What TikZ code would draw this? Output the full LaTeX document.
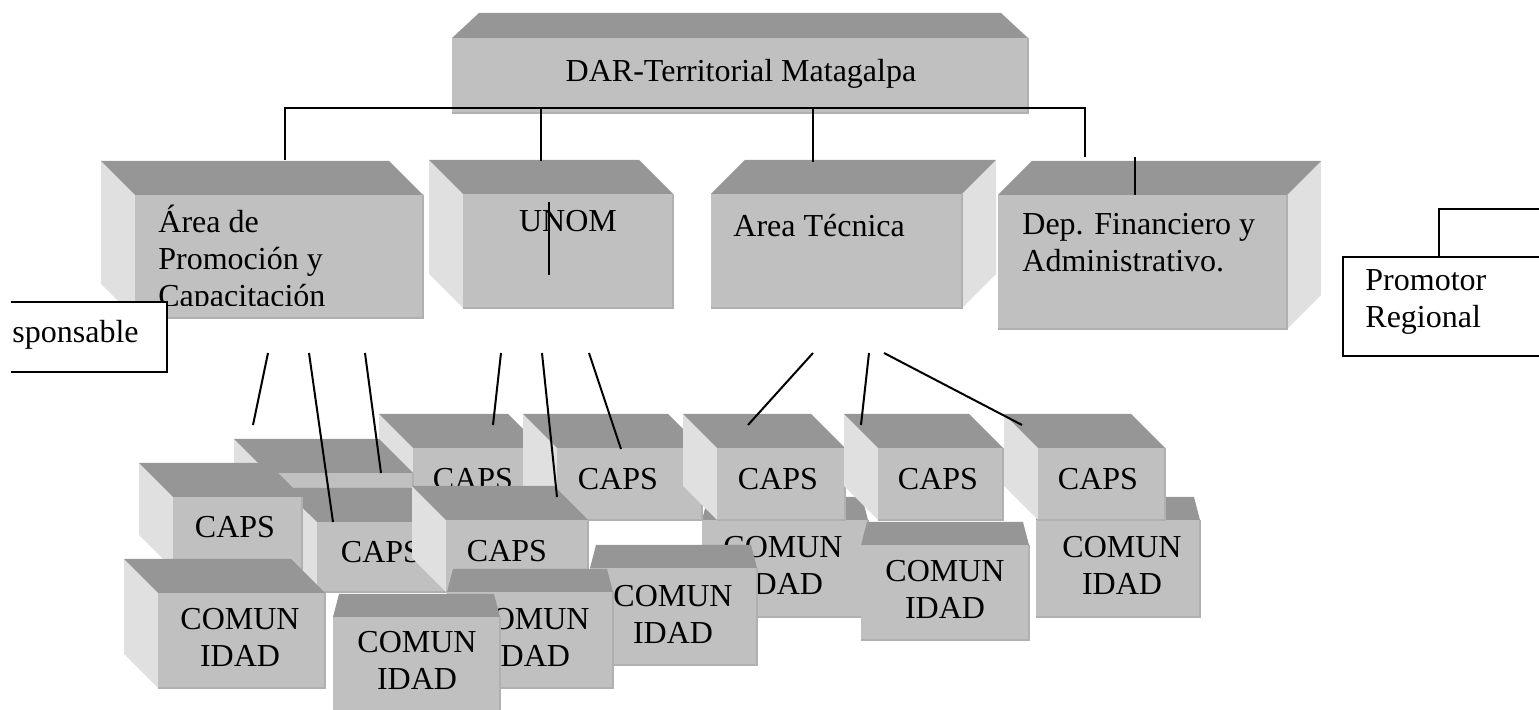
\documentclass[tikz,border=0pt]{standalone}
\usepackage{fontspec}
\setmainfont{Liberation Serif}
\usepackage{tikz}

\definecolor{boxfront}{HTML}{C0C0C0}
\definecolor{boxtop}{HTML}{969696}
\definecolor{boxside}{HTML}{E0E0E0}
\definecolor{boxedge}{HTML}{B0B0B0}

\def\dep{34}
\def\ins{6}
\def\hgt{23}

% front face (#3,#4)-(#5,#6), label #7 with its last baseline at (#8,#9)
\newcommand{\cubefront}[9][]{%
  \fill[boxfront] (#3,#4) rectangle (#5,#6);
  \draw[boxedge,line width=0.75pt] (#3,#6) -- (#5,#6) -- (#5,#4);
  \begin{scope}
    \clip (#3,#4) rectangle (#5,#6-12);
    \node[lbl,#1] (#2) at (#8,#9) {#7};
  \end{scope}}
\newcommand{\cubeleft}[9][]{%
  \fill[boxside] (#3,#4) -- ++(-\dep,-\dep) -- ++(0,#6-#4) -- (#3,#6) -- cycle;
  \fill[boxtop] (#3,#4) -- ++(-\dep,-\dep) -- ++(#5-#3,0) -- (#5,#4) -- cycle;
  \cubefront[#1]{#2}{#3}{#4}{#5}{#6}{#7}{#8}{#9}}
\newcommand{\cuberight}[9][]{%
  \fill[boxside] (#5,#4) -- ++(\dep,-\dep) -- ++(0,#6-#4) -- (#5,#6) -- cycle;
  \fill[boxtop] (#3,#4) -- ++(\dep,-\dep) -- ++(#5-#3,0) -- (#5,#4) -- cycle;
  \cubefront[#1]{#2}{#3}{#4}{#5}{#6}{#7}{#8}{#9}}
\newcommand{\cubeflat}[9][]{%
  \fill[boxtop] (#3,#4) -- ++(\ins,-\hgt) -- (#5-\ins,#4-\hgt) -- (#5,#4) -- cycle;
  \cubefront[#1]{#2}{#3}{#4}{#5}{#6}{#7}{#8}{#9}}

\begin{document}
\begin{tikzpicture}[x=0.5pt,y=-0.5pt,
    lbl/.style={font=\fontsize{16}{18.5}\selectfont,inner sep=0pt,anchor=base,align=center},
    wire/.style={line width=1pt}]
  \clip (0,0) rectangle (1539,710);

  % direccion
  \def\ins{27}\def\hgt{25}
  \cubeflat{dar}{452}{38}{1028}{113}{DAR-Territorial Matagalpa}{741}{82}
  \def\ins{6}\def\hgt{23}

  % areas
  \cubeleft[align=left,anchor=base west]{promo}{135}{195}{423}{318}{Área de\\Promoción y\\Capacitación}{158}{307}
  \cubeleft{unom}{463}{194}{673}{308}{UNOM}{568}{232}
  \cuberight[anchor=base west]{tecnica}{711}{194}{962}{308}{Area Técnica}{733}{237}
  \cuberight[align=left,anchor=base west]{financ}{998}{195}{1287}{329}{Dep. Financiero y\\Administrativo.}{1022}{272}

  % caps y comunidades
  \cubeflat{com7}{702}{520}{868}{617}{COMUN\\IDAD}{783}{595}
  \cubeflat{com9}{1036}{520}{1200}{617}{COMUN\\IDAD}{1122}{595}
  \cubeleft{caps5}{413}{448}{542}{520}{CAPS}{473}{490}
  \cubeleft{caps6}{557}{448}{702}{520}{CAPS}{618}{490}
  \cubeleft{caps7}{717}{448}{845}{520}{CAPS}{778}{490}
  \cubeleft{caps8}{878}{448}{1003}{520}{CAPS}{938}{490}
  \cubeleft{caps9}{1038}{448}{1165}{520}{CAPS}{1098}{490}
  \cubeleft{caps1}{268}{473}{413}{545}{CAPS}{340}{515}
  \cubeleft{caps3}{317}{522}{450}{592}{CAPS}{381}{563}
  \cubeleft{caps4}{446}{520}{588}{592}{CAPS}{507}{562}
  \cubeleft{caps2}{173}{497}{302}{569}{CAPS}{235}{538}
  \cubeleft{com2}{158}{593}{325}{688}{COMUN\\IDAD}{240}{667}
  \cubeflat{comx}{590}{568}{757}{665}{COMUN\\IDAD}{673}{644}
  \cubeflat{com4}{447}{592}{613}{688}{COMUN\\IDAD}{530}{667}
  \cubeflat{com3}{333}{617}{500}{725}{COMUN\\IDAD}{417}{690}
  \cubeflat{com8}{861}{545}{1029}{640}{COMUN\\IDAD}{945}{619}

  % cuadros sueltos
  \fill[white] (0,302) rectangle (167,372);
  \draw[wire] (11,302) -- (167,302) -- (167,372) -- (11,372);
  \node[lbl,anchor=base west] (resp) at (12,343) {sponsable};
  \fill[white] (1343,257) rectangle (1539,356);
  \draw[wire] (1539,257) -- (1343,257) -- (1343,356) -- (1539,356);
  \node[lbl,anchor=base west,align=left] (prom) at (1365,328) {Promotor\\Regional};

  % lineas
  \coordinate (bus) at (285,108);
  \coordinate (jA) at (285,160);
  \coordinate (jU) at (541,161);
  \coordinate (jT) at (813,162);
  \coordinate (jD) at (1085,157);
  \draw[wire] (jA) -- (bus) -| (jD);
  \draw[wire] (jU) -- (jU |- bus);
  \draw[wire] (jT) -- (jT |- bus);
  \coordinate (fA) at (1135,157);
  \coordinate (fB) at (1135,195);
  \coordinate (uA) at (549,202);
  \coordinate (uB) at (549,275);
  \coordinate (pA) at (1439,257);
  \coordinate (pB) at (1539,209);
  \draw[wire] (fA) -- (fB);
  \draw[wire] (uA) -- (uB);
  \draw[wire] (pA) |- (pB);

  \coordinate (a1) at (268,353); \coordinate (b1) at (253,425);
  \coordinate (a2) at (309,353); \coordinate (b2) at (333,522);
  \coordinate (a3) at (365,353); \coordinate (b3) at (381,473);
  \coordinate (a4) at (501,353); \coordinate (b4) at (493,425);
  \coordinate (a5) at (542,353); \coordinate (b5) at (557,497);
  \coordinate (a6) at (589,353); \coordinate (b6) at (621,449);
  \coordinate (a7) at (813,353); \coordinate (b7) at (748,425);
  \coordinate (a8) at (869,353); \coordinate (b8) at (861,425);
  \coordinate (a9) at (884,353); \coordinate (b9) at (1022,425);
  \foreach \i in {1,...,9}
    \draw[wire] (a\i) -- (b\i);
\end{tikzpicture}
\end{document}
